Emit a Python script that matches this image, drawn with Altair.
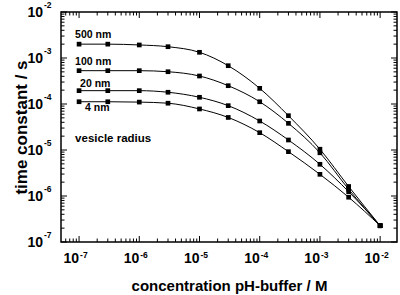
import altair as alt
import pandas as pd

# ---- data ----
conc = [1e-7, 3e-7, 1e-6, 3e-6, 1e-5, 3e-5, 1e-4, 3e-4, 1e-3, 3e-3, 1e-2]
tau_500 = [2.0e-3, 2.0e-3, 1.92e-3, 1.76e-3, 1.33e-3, 6.8e-4, 2.19e-4, 5.57e-5, 1.04e-5, 1.61e-6, 2.26e-7]
tau_100 = [5.3e-4, 5.3e-4, 5.3e-4, 5.03e-4, 4.06e-4, 2.5e-4, 1.12e-4, 3.8e-5, 8.7e-6, 1.40e-6, 2.26e-7]
tau_20 = [1.95e-4, 1.95e-4, 1.95e-4, 1.80e-4, 1.40e-4, 9.2e-5, 4.27e-5, 1.65e-5, 4.89e-6, 1.24e-6, 2.26e-7]
tau_4 = [1.12e-4, 1.12e-4, 1.10e-4, 1.04e-4, 7.8e-5, 5.1e-5, 2.38e-5, 9.2e-6, 2.96e-6, 9.4e-7, 2.26e-7]
series_names = ["500 nm", "100 nm", "20 nm", "4 nm"]

label_text = ["500 nm", "100 nm", "20 nm", "4 nm", "vesicle radius"]
label_x = [8.6e-8, 8.6e-8, 1.04e-7, 1.26e-7, 8.6e-8]
label_y = [2.72e-3, 7.05e-4, 2.34e-4, 7.05e-5, 1.49e-5]
label_size = [10.5, 10.5, 10.5, 10.5, 11.5]

x_major = [1e-7, 1e-6, 1e-5, 1e-4, 1e-3, 1e-2]
x_major_exp = ["-7", "-6", "-5", "-4", "-3", "-2"]
y_major = [1e-7, 1e-6, 1e-5, 1e-4, 1e-3, 1e-2]
y_major_exp = ["-7", "-6", "-5", "-4", "-3", "-2"]
x_minor = [m * d for d in [1e-8, 1e-7, 1e-6, 1e-5, 1e-4, 1e-3] for m in range(2, 10)
           if 5.2e-8 < m * d < 1.9e-2]
y_minor = [m * d for d in [1e-7, 1e-6, 1e-5, 1e-4, 1e-3] for m in range(2, 10)]

x_domain = [10 ** -7.30, 10 ** -1.72]
y_domain = [1e-7, 1e-2]

W, H = 336, 230
FONT = "Liberation Sans"

rows = []
for name, vals in zip(series_names, [tau_500, tau_100, tau_20, tau_4]):
    for c, v in zip(conc, vals):
        rows.append({"series": name, "conc": c, "tau": v})
df = pd.DataFrame(rows)

xs = alt.Scale(type="log", domain=x_domain, nice=False)
ys = alt.Scale(type="log", domain=y_domain, nice=False)

x_axis = alt.Axis(labels=False, ticks=False, domain=False, grid=False,
                  title="concentration pH-buffer / M", titleFont=FONT,
                  titleFontSize=15, titleFontWeight="bold", titleColor="black",
                  titlePadding=48, titleBaseline="alphabetic")
y_axis = alt.Axis(labels=False, ticks=False, domain=False, grid=False,
                  title="time constant / s", titleFont=FONT,
                  titleFontSize=17, titleFontWeight="bold", titleColor="black",
                  titlePadding=35, titleBaseline="alphabetic")

base = alt.Chart(df)
lines = base.mark_line(color="black", strokeWidth=1, interpolate="monotone").encode(
    x=alt.X("conc:Q", scale=xs, axis=x_axis),
    y=alt.Y("tau:Q", scale=ys, axis=y_axis),
    detail="series:N",
)
points = base.mark_point(shape="square", filled=True, size=22, color="black", opacity=1).encode(
    x=alt.X("conc:Q", scale=xs),
    y=alt.Y("tau:Q", scale=ys),
)

lab_df = pd.DataFrame({"t": label_text, "x": label_x, "y": label_y, "s": label_size})
labels = alt.Chart(lab_df).mark_text(font=FONT, fontWeight="bold", align="left",
                                     baseline="alphabetic", color="black").encode(
    x=alt.X("x:Q", scale=xs), y=alt.Y("y:Q", scale=ys), text="t:N",
    size=alt.Size("s:Q", scale=None, legend=None),
)

# ticks (inward, all four sides)
xmaj = pd.DataFrame({"v": x_major, "e": x_major_exp})
xmin = pd.DataFrame({"v": x_minor})
ymaj = pd.DataFrame({"v": y_major, "e": y_major_exp})
ymin = pd.DataFrame({"v": y_minor})

def xticks(d, L):
    b = alt.Chart(d).mark_rule(color="black", strokeWidth=1)
    return [b.encode(x=alt.X("v:Q", scale=xs), y=alt.value(H), y2=alt.value(H - L)),
            b.encode(x=alt.X("v:Q", scale=xs), y=alt.value(0), y2=alt.value(L))]

def yticks(d, L):
    b = alt.Chart(d).mark_rule(color="black", strokeWidth=1)
    return [b.encode(y=alt.Y("v:Q", scale=ys), x=alt.value(0), x2=alt.value(L)),
            b.encode(y=alt.Y("v:Q", scale=ys), x=alt.value(W), x2=alt.value(W - L))]

ticks = xticks(xmaj, 6) + xticks(xmin, 3.5) + yticks(ymaj, 6) + yticks(ymin, 3.5)

# tick labels as 10 with superscript exponent
xl10 = alt.Chart(xmaj).mark_text(font=FONT, fontWeight="bold", fontSize=14, align="right",
                                 baseline="alphabetic", color="black").encode(
    x=alt.X("v:Q", scale=xs), y=alt.value(H + 21), text=alt.value("10"))
xlexp = alt.Chart(xmaj).mark_text(font=FONT, fontWeight="bold", fontSize=8.5, align="left",
                                  baseline="alphabetic", dx=1, color="black").encode(
    x=alt.X("v:Q", scale=xs), y=alt.value(H + 16), text="e:N")
yl10 = alt.Chart(ymaj).mark_text(font=FONT, fontWeight="bold", fontSize=14, align="right",
                                 baseline="alphabetic", dy=5, color="black").encode(
    y=alt.Y("v:Q", scale=ys), x=alt.value(-18), text=alt.value("10"))
ylexp = alt.Chart(ymaj).mark_text(font=FONT, fontWeight="bold", fontSize=8.5, align="left",
                                  baseline="alphabetic", dy=-4, color="black").encode(
    y=alt.Y("v:Q", scale=ys), x=alt.value(-17), text="e:N")

chart = alt.layer(lines, points, labels, *ticks, xl10, xlexp, yl10, ylexp).properties(
    width=W, height=H,
    autosize=alt.AutoSizeParams(type="none"),
    padding={"left": 61, "top": 12, "right": 3, "bottom": 53},
    background="white",
).configure_view(stroke="black", strokeWidth=1.5)

chart.save("out.html", embed_options={"renderer": "svg", "actions": False})
